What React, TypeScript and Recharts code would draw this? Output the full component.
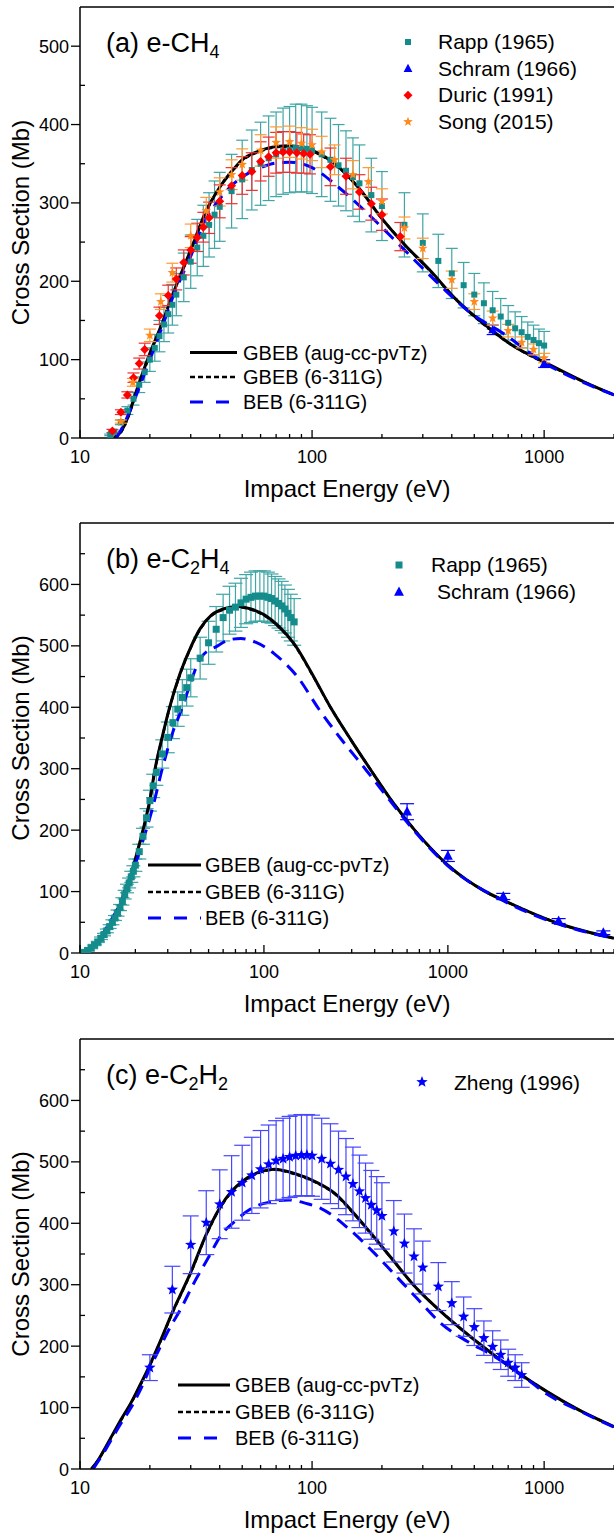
import React from 'react';
import { ComposedChart, Line, Scatter, ErrorBar, XAxis, YAxis, ReferenceLine } from 'recharts';

const FONT = '"Liberation Sans", Arial, Helvetica, sans-serif';
const W = 614;
const PLOT_LEFT = 80;
const X_AXIS_H = 42;

// ---------- ticks ----------
const xTicksShort = [10, 20, 30, 40, 50, 60, 70, 80, 90, 100, 200, 300, 400, 500, 600, 700, 800, 900, 1000, 2000];
const xTicksLong = [10, 20, 30, 40, 50, 60, 70, 80, 90, 100, 200, 300, 400, 500, 600, 700, 800, 900, 1000, 2000, 3000, 4000, 5000, 6000, 7000, 8000];
const xTickLabels = [10, 100, 1000];
const yTicks550 = [0, 50, 100, 150, 200, 250, 300, 350, 400, 450, 500];
const yTicks700 = [0, 50, 100, 150, 200, 250, 300, 350, 400, 450, 500, 550, 600, 650];

// ---------- (a) e-CH4 ----------
const ch4GbebAug = [[14, 0], [15, 8], [16, 25], [17.5, 60], [20, 108], [22.5, 145], [25, 182], [30, 240], [35, 290], [40, 320], [45, 340], [50, 355], [60, 367], [70, 372], [80, 373], [90, 371], [100, 367], [130, 346], [160, 318], [200, 280], [250, 247], [320, 215], [420, 176], [570, 142], [740, 117], [1000, 97], [1500, 71], [2000, 55]];
const ch4Gbeb6311 = [[14.1, 0], [15, 7], [16, 24], [17.5, 58], [20, 106], [22.5, 144], [25, 181], [30, 239], [35, 289], [40, 320], [45, 340], [50, 354], [60, 366], [70, 371], [80, 372], [90, 370], [100, 366], [130, 345], [160, 318], [200, 280], [250, 247], [320, 214], [420, 176], [570, 141], [740, 117], [1000, 96], [1500, 71], [2000, 55]];
const ch4Beb = [[14.3, 0], [15, 10], [17.5, 55], [20, 100], [22.5, 140], [25, 178], [30, 232], [35, 280], [40, 305], [45, 322], [50, 333], [60, 345], [70, 351], [80, 352], [90, 350], [100, 345], [130, 320], [180, 282], [250, 240], [350, 197], [480, 160], [670, 133], [1000, 96], [1500, 70], [2000, 55]];
const ch4Rapp = [[13.5, 4, 1], [14, 8, 1], [15, 20, 3], [16, 35, 5], [17, 50, 8], [18, 68, 10], [19, 84, 13], [20, 100, 15], [21, 115, 17], [22, 130, 20], [23, 145, 22], [24, 158, 24], [25, 170, 26], [26, 183, 27], [28, 205, 31], [30, 225, 34], [32, 243, 36], [34, 258, 39], [36, 272, 41], [38, 285, 43], [40, 295, 44], [45, 315, 47], [50, 330, 50], [55, 342, 51], [60, 350, 53], [65, 357, 54], [70, 362, 54], [75, 366, 55], [80, 368, 55], [85, 370, 56], [90, 370, 56], [95, 369, 55], [100, 367, 55], [110, 362, 54], [120, 355, 53], [130, 348, 52], [140, 341, 51], [150, 333, 50], [160, 325, 49], [180, 310, 47], [200, 296, 44], [250, 272, 41], [300, 249, 37], [350, 226, 34], [400, 210, 32], [450, 195, 29], [500, 183, 27], [550, 172, 26], [600, 163, 24], [650, 155, 23], [700, 147, 22], [750, 140, 21], [800, 135, 20], [850, 129, 19], [900, 125, 19], [950, 121, 18], [1000, 118, 18]];
const ch4Schram = [[600, 138, 6], [1000, 95, 5]];
const ch4Duric = [[13.8, 9, 2], [15, 33, 3], [16, 55, 4], [17, 77, 6], [18, 95, 7], [19, 113, 8], [22, 156, 11], [24, 182, 13], [26, 203, 14], [28, 224, 16], [30, 240, 17], [32, 256, 18], [34, 269, 19], [36, 281, 20], [40, 302, 21], [45, 322, 23], [50, 335, 24], [55, 340, 24], [60, 353, 25], [65, 359, 25], [70, 364, 26], [75, 365, 26], [80, 365, 26], [86, 364, 26], [92, 363, 25], [98, 362, 25], [120, 346, 24], [140, 334, 23], [160, 314, 22], [180, 299, 21], [200, 285, 20], [240, 257, 18]];
const ch4Song = [[15, 21, 2], [16.9, 71, 5], [20, 131, 8], [22.3, 174, 10], [25, 211, 12], [30, 258, 15], [35, 290, 17], [40, 314, 18], [45, 336, 19], [50, 349, 20], [60, 367, 20], [70, 377, 20], [80, 378, 20], [90, 376, 20], [100, 374, 20], [110, 365, 20], [125, 355, 19], [150, 336, 18], [175, 327, 18], [200, 302, 16], [250, 268, 14], [300, 242, 13], [400, 202, 11], [500, 174, 10], [600, 153, 9], [700, 137, 8], [800, 122, 7], [900, 113, 7], [1000, 102, 6]];

// ---------- (b) e-C2H4 ----------
const c2h4GbebAug = [[10.3, 0], [11, 5], [12, 14], [13, 25], [14, 38], [15, 52], [16, 68], [17.5, 100], [19, 130], [20.5, 165], [22, 200], [24, 250], [25.6, 300], [28, 352], [30.7, 400], [35, 455], [40.3, 500], [45, 528], [51.8, 550], [60, 560], [72, 564], [85, 560], [101, 550], [120, 532], [147, 502], [180, 458], [230, 400], [300, 345], [377, 300], [500, 246], [660, 200], [1000, 143], [1600, 100], [2000, 86], [4000, 48], [8000, 24]];
const c2h4Gbeb6311 = [[10.3, 0], [11, 5], [12, 14], [13, 25], [14, 38], [15, 52], [16, 67], [17.5, 99], [19, 129], [20.5, 164], [22, 199], [24, 249], [25.6, 299], [28, 351], [30.7, 399], [35, 454], [40.3, 499], [45, 527], [51.8, 549], [60, 559], [72, 563], [85, 559], [101, 549], [120, 531], [147, 501], [180, 457], [230, 400], [300, 345], [377, 300], [500, 246], [660, 200], [1000, 143], [1600, 100], [2000, 86], [4000, 48], [8000, 24]];
const c2h4Beb = [[10.8, 0], [12, 12], [14.2, 45], [16, 72], [17.5, 98], [20, 145], [22.9, 200], [25, 240], [28, 300], [32, 360], [36, 400], [38.6, 427], [45.5, 481], [56, 500], [65, 510], [75, 512], [90, 506], [105, 495], [114, 487], [130, 472], [150, 452], [200, 396], [260, 350], [359, 298], [500, 243], [660, 198], [1000, 142], [2000, 85], [4000, 47], [8000, 24]];
const c2h4Rapp = [[10.5, 1, 0], [11, 4, 0.5], [11.5, 8, 1], [12, 13, 1], [12.5, 18, 1], [13, 24, 2], [13.5, 30, 2], [14, 36, 3], [14.5, 43, 3], [15, 50, 4], [15.5, 57, 4], [16, 65, 5], [16.5, 74, 5], [17, 84, 6], [17.5, 95, 7], [18, 105, 7], [18.5, 114, 8], [19, 124, 9], [19.5, 133, 9], [20, 143, 10], [21, 165, 12], [22, 190, 13], [23, 220, 15], [24, 248, 17], [25, 272, 19], [26, 294, 21], [28, 324, 23], [30, 351, 25], [32, 375, 26], [34, 397, 28], [36, 416, 29], [38, 432, 30], [40, 448, 31], [45, 480, 34], [50, 505, 35], [55, 527, 37], [60, 546, 38], [65, 558, 39], [70, 563, 39], [75, 570, 40], [80, 576, 40], [85, 579, 41], [90, 581, 41], [95, 581, 41], [100, 581, 41], [105, 579, 41], [110, 577, 40], [115, 573, 40], [120, 569, 40], [125, 565, 40], [130, 560, 39], [135, 553, 39], [140, 546, 38], [146, 539, 38]];
const c2h4Schram = [[600, 230, 13], [1000, 158, 9], [2000, 92, 5], [4000, 52, 4], [7000, 33, 3]];

// ---------- (c) e-C2H2 ----------
const c2h2GbebAug = [[11.2, 0], [12, 15], [13, 38], [14, 60], [15, 80], [16.6, 108], [18, 134], [19.8, 166], [22, 205], [25, 255], [30, 320], [35, 382], [40, 425], [45, 452], [50, 468], [60, 484], [69, 488], [84, 481], [103, 468], [125, 449], [150, 418], [180, 383], [220, 343], [273, 300], [380, 248], [529, 203], [738, 162], [1028, 126], [1430, 95], [2000, 69]];
const c2h2Gbeb6311 = [[11.2, 0], [12, 15], [13, 37], [14, 59], [15, 79], [16.6, 107], [18, 133], [19.8, 165], [22, 204], [25, 254], [30, 319], [35, 381], [40, 424], [45, 451], [50, 467], [60, 483], [69, 487], [84, 480], [103, 467], [125, 448], [150, 417], [180, 382], [220, 343], [273, 300], [380, 248], [529, 203], [738, 162], [1028, 126], [1430, 95], [2000, 69]];
const c2h2Beb = [[11.4, 0], [12, 13], [13, 34], [14, 55], [15, 74], [16.6, 100], [18, 125], [19.8, 160], [22, 196], [24, 225], [27.3, 262], [31.2, 305], [35.6, 343], [40.6, 381], [46.4, 403], [56.6, 427], [65, 434], [79, 438], [95, 432], [109.5, 424], [143, 392], [186, 351], [225, 318], [283, 278], [357, 238], [465, 208], [600, 185], [800, 153], [1028, 122], [1430, 94], [2000, 68]];
const c2h2Zheng = [[20, 165, 21], [25, 292, 38], [30, 365, 47], [35, 401, 52], [40, 431, 56], [45, 451, 59], [50, 466, 61], [55, 478, 62], [60, 488, 63], [65, 496, 64], [70, 502, 65], [75, 505, 66], [80, 508, 66], [85, 510, 66], [90, 511, 66], [95, 511, 66], [100, 510, 66], [110, 505, 66], [120, 497, 65], [130, 487, 63], [140, 476, 62], [150, 464, 60], [160, 452, 59], [170, 441, 57], [180, 430, 56], [190, 421, 55], [200, 412, 54], [225, 387, 50], [250, 367, 48], [275, 346, 45], [300, 328, 43], [350, 297, 39], [400, 270, 35], [450, 248, 32], [500, 231, 30], [550, 213, 28], [600, 199, 26], [650, 186, 24], [700, 173, 22], [750, 165, 21], [800, 153, 20]];

// ---------- colours ----------
const TEAL = '#148c8c';
const TEAL_BAR = '#3fa5a5';
const RED = '#ff0000';
const RED_BAR = '#f03030';
const ORANGE = '#ff8a1c';
const ORANGE_BAR = '#ff9a33';
const BLUE = '#0000ff';
const BLUE_BAR = '#4646ff';

const toPts = (a: number[][]) => a.map(([x, y, err]) => ({ x, y, err }));

// ---------- marker shapes ----------
function starPath(cx: number, cy: number, R: number) {
  const r = R * 0.42;
  let d = '';
  for (let i = 0; i < 10; i++) {
    const rad = i % 2 === 0 ? R : r;
    const a = -Math.PI / 2 + (i * Math.PI) / 5;
    d += (i === 0 ? 'M' : 'L') + (cx + rad * Math.cos(a)).toFixed(2) + ',' + (cy + rad * Math.sin(a)).toFixed(2);
  }
  return d + 'Z';
}
const drawSquare = (cx: number, cy: number, s: number, c: string) => <rect x={cx - s / 2} y={cy - s / 2} width={s} height={s} fill={c} />;
const drawTriangle = (cx: number, cy: number, s: number, c: string) => (
  <path d={`M${cx},${cy - s * 0.62}L${cx + s * 0.55},${cy + s * 0.42}L${cx - s * 0.55},${cy + s * 0.42}Z`} fill={c} />
);
const drawDiamond = (cx: number, cy: number, s: number, c: string) => (
  <path d={`M${cx},${cy - s / 2}L${cx + s / 2},${cy}L${cx},${cy + s / 2}L${cx - s / 2},${cy}Z`} fill={c} />
);
const drawStar = (cx: number, cy: number, s: number, c: string) => <path d={starPath(cx, cy, s / 2)} fill={c} />;

const shape = (fn: any, s: number, c: string) => (p: any) => fn(p.cx, p.cy, s, c);

// ---------- ticks ----------
const xTick = (bottom: number) => (props: any) => {
  const { x, payload } = props;
  const v = payload.value;
  const major = xTickLabels.includes(v);
  return (
    <g>
      <line x1={x} x2={x} y1={bottom} y2={bottom - (major ? 8 : 4)} stroke="#000" strokeWidth={1.3} />
      {major && (
        <text x={x} y={bottom + 25} textAnchor="middle" fontSize={18} fontFamily={FONT} fill="#000">
          {v}
        </text>
      )}
    </g>
  );
};

const yTick = (props: any) => {
  const { y, payload } = props;
  const v = payload.value;
  const major = v % 100 === 0;
  return (
    <g>
      {major ? (
        <line x1={PLOT_LEFT - 9} x2={PLOT_LEFT} y1={y} y2={y} stroke="#000" strokeWidth={1.3} />
      ) : (
        <line x1={PLOT_LEFT} x2={PLOT_LEFT + 5} y1={y} y2={y} stroke="#000" strokeWidth={1.3} />
      )}
      {major && (
        <text x={PLOT_LEFT - 11} y={y + 6.5} textAnchor="end" fontSize={18} fontFamily={FONT} fill="#000">
          {v}
        </text>
      )}
    </g>
  );
};

type Series = { data: number[][]; fn: any; size: number; color: string; bar: string; cap: number };
type Curve = { data: number[][]; color: string; width: number; dash?: string };

function Panel(props: {
  top: number; height: number; marginTop: number; xMax: number; yMax: number;
  xTicks: number[]; yTicks: number[]; under: Series[]; curves: Curve[]; over: Series[];
}) {
  const plotBottom = props.height - X_AXIS_H;
  const scatter = (s: Series, i: string) => (
    <Scatter key={i} data={toPts(s.data)} dataKey="y" shape={shape(s.fn, s.size, s.color)} isAnimationActive={false}>
      <ErrorBar dataKey="err" direction="y" width={s.cap} stroke={s.bar} strokeWidth={1.2} />
    </Scatter>
  );
  return (
    <div style={{ position: 'absolute', left: 0, top: props.top }}>
      <ComposedChart width={W} height={props.height} margin={{ top: props.marginTop, right: 0, bottom: 0, left: 0 }}>
        <XAxis
          type="number" dataKey="x" scale="log" domain={[10, props.xMax]} allowDataOverflow
          ticks={props.xTicks} interval={0} tickLine={false} height={X_AXIS_H}
          axisLine={{ stroke: '#000', strokeWidth: 1.5 }} tick={xTick(plotBottom)}
        />
        <YAxis
          type="number" domain={[0, props.yMax]} allowDataOverflow ticks={props.yTicks} interval={0}
          tickLine={false} width={PLOT_LEFT} axisLine={{ stroke: '#000', strokeWidth: 1.5 }} tick={yTick}
        />
        <ReferenceLine y={props.yMax} stroke="#000" strokeWidth={1.5} />
        {props.under.map((s, i) => scatter(s, 'u' + i))}
        {props.curves.map((c, i) => (
          <Line
            key={'c' + i} data={toPts(c.data)} dataKey="y" type="monotone" stroke={c.color}
            strokeWidth={c.width} strokeDasharray={c.dash} dot={false} activeDot={false} isAnimationActive={false}
          />
        ))}
        {props.over.map((s, i) => scatter(s, 'o' + i))}
      </ComposedChart>
    </div>
  );
}

const curvesOf = (aug: number[][], g6: number[][], beb: number[][]): Curve[] => [
  { data: aug, color: '#000', width: 3 },
  { data: g6, color: '#000', width: 2.5, dash: '5 3' },
  { data: beb, color: BLUE, width: 3, dash: '13 8' },
];

function CurveLegend({ x1, x2, tx, rows }: { x1: number; x2: number; tx: number; rows: number[] }) {
  const labels = ['GBEB (aug-cc-pvTz)', 'GBEB (6-311G)', 'BEB (6-311G)'];
  const styles = [
    { stroke: '#000', w: 3, dash: undefined },
    { stroke: '#000', w: 2.5, dash: '5 3' },
    { stroke: BLUE, w: 3, dash: '13 13' },
  ];
  return (
    <g>
      {rows.map((y, i) => (
        <g key={i}>
          <line x1={x1} x2={x2} y1={y} y2={y} stroke={styles[i].stroke} strokeWidth={styles[i].w} strokeDasharray={styles[i].dash} />
          <text x={tx} y={y + 7} fontSize={20} fontFamily={FONT} fill="#000">{labels[i]}</text>
        </g>
      ))}
    </g>
  );
}

function AxisTitles({ plotTop, plotBottom }: { plotTop: number; plotBottom: number }) {
  const cy = (plotTop + plotBottom) / 2;
  return (
    <g>
      <text x={(PLOT_LEFT + W) / 2} y={plotBottom + 59} textAnchor="middle" fontSize={24} fontFamily={FONT} fill="#000">
        Impact Energy (eV)
      </text>
      <text transform={`translate(29,${cy}) rotate(-90)`} textAnchor="middle" fontSize={24} fontFamily={FONT} fill="#000">
        Cross Section (Mb)
      </text>
    </g>
  );
}

export default function App() {
  const t = { fontFamily: FONT, fill: '#000' };
  return (
    <div style={{ position: 'absolute', left: 0, top: 0, width: W, height: 1537, background: '#fff', overflow: 'hidden' }}>
      <Panel
        top={0} height={480} marginTop={7} xMax={2000} yMax={550} xTicks={xTicksShort} yTicks={yTicks550}
        under={[
          { data: ch4Rapp, fn: drawSquare, size: 6, color: TEAL, bar: TEAL_BAR, cap: 6 },
          { data: ch4Schram, fn: drawTriangle, size: 8, color: BLUE, bar: BLUE, cap: 6 },
        ]}
        curves={curvesOf(ch4GbebAug, ch4Gbeb6311, ch4Beb)}
        over={[
          { data: ch4Duric, fn: drawDiamond, size: 9, color: RED, bar: RED_BAR, cap: 6 },
          { data: ch4Song, fn: drawStar, size: 10, color: ORANGE, bar: ORANGE_BAR, cap: 6 },
        ]}
      />
      <Panel
        top={480} height={515} marginTop={43} xMax={8000} yMax={700} xTicks={xTicksLong} yTicks={yTicks700}
        under={[{ data: c2h4Rapp, fn: drawSquare, size: 7, color: TEAL, bar: TEAL_BAR, cap: 7 }]}
        curves={curvesOf(c2h4GbebAug, c2h4Gbeb6311, c2h4Beb)}
        over={[{ data: c2h4Schram, fn: drawTriangle, size: 9, color: BLUE, bar: BLUE, cap: 7 }]}
      />
      <Panel
        top={995} height={516} marginTop={44} xMax={2000} yMax={700} xTicks={xTicksShort} yTicks={yTicks700}
        under={[]}
        curves={curvesOf(c2h2GbebAug, c2h2Gbeb6311, c2h2Beb)}
        over={[{ data: c2h2Zheng, fn: drawStar, size: 12, color: BLUE, bar: BLUE_BAR, cap: 8 }]}
      />

      <svg width={W} height={1537} style={{ position: 'absolute', left: 0, top: 0, pointerEvents: 'none' }}>
        {/* (a) */}
        <text x={106} y={52} fontSize={27} {...t}>
          (a) e-CH<tspan fontSize={18} dy={6}>4</tspan>
        </text>
        {drawSquare(408, 42, 6, TEAL)}
        {drawTriangle(408, 68.6, 8, BLUE)}
        {drawDiamond(408, 95.2, 9, RED)}
        {drawStar(408, 121.8, 10, ORANGE)}
        <text x={438} y={49} fontSize={21} {...t}>Rapp (1965)</text>
        <text x={438} y={75.6} fontSize={21} {...t}>Schram (1966)</text>
        <text x={438} y={102.2} fontSize={21} {...t}>Duric (1991)</text>
        <text x={438} y={128.8} fontSize={21} {...t}>Song (2015)</text>
        <CurveLegend x1={190} x2={237} tx={243} rows={[352.5, 377, 402]} />
        <AxisTitles plotTop={7} plotBottom={438} />

        {/* (b) */}
        <text x={106} y={568} fontSize={27} {...t}>
          (b) e-C<tspan fontSize={18} dy={6}>2</tspan><tspan fontSize={27} dy={-6}>H</tspan><tspan fontSize={18} dy={6}>4</tspan>
        </text>
        {drawSquare(399, 565, 7, TEAL)}
        {drawTriangle(399, 592, 9, BLUE)}
        <text x={431} y={571.6} fontSize={21} {...t}>Rapp (1965)</text>
        <text x={437} y={598.6} fontSize={21} {...t}>Schram (1966)</text>
        <CurveLegend x1={148} x2={201} tx={205} rows={[865, 892, 918]} />
        <AxisTitles plotTop={523} plotBottom={953} />

        {/* (c) */}
        <text x={106} y={1084} fontSize={27} {...t}>
          (c) e-C<tspan fontSize={18} dy={6}>2</tspan><tspan fontSize={27} dy={-6}>H</tspan><tspan fontSize={18} dy={6}>2</tspan>
        </text>
        {drawStar(422, 1082, 12, BLUE)}
        <text x={454} y={1090} fontSize={21} {...t}>Zheng (1996)</text>
        <CurveLegend x1={178} x2={230} tx={235} rows={[1385, 1412, 1438]} />
        <AxisTitles plotTop={1039} plotBottom={1469} />
      </svg>
    </div>
  );
}
